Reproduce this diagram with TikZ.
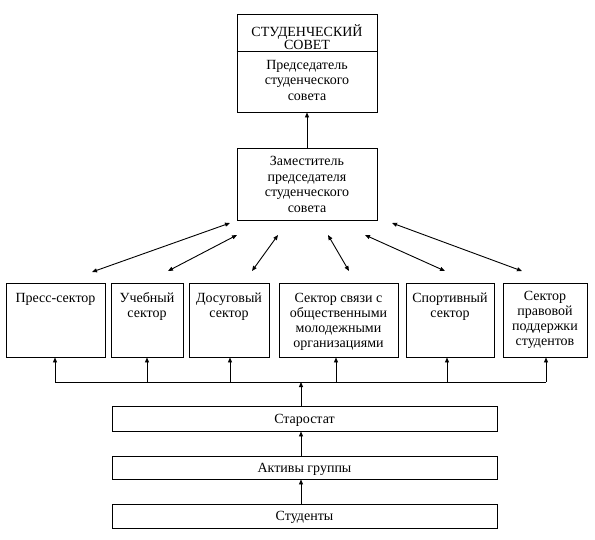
\documentclass[tikz,border=0pt]{standalone}
\usepackage{fontspec}
\setmainfont{Liberation Serif}
\usetikzlibrary{arrows.meta}
\newcommand{\hdrfont}{\fontsize{14}{13}\selectfont\lineskiplimit=-20pt\relax\lineskip=0pt\relax}
\tikzset{
  box/.style={draw, line width=0.9pt, inner sep=0pt},
  txt/.style={align=center, inner sep=0pt, anchor=north, font=\fontsize{14}{15.5}\selectfont},
  arr/.style={line width=0.9pt, -{Triangle[length=5pt,width=4pt]}},
  darr/.style={line width=0.9pt, {Triangle[length=5pt,width=4pt]}-{Triangle[length=5pt,width=4pt]}},
  wide/.style={box, minimum width=385pt, text height=9.3pt, text depth=0pt, font=\fontsize{14}{15.5}\selectfont},
}
\begin{document}
\begin{tikzpicture}[x=1pt,y=-1pt]
\useasboundingbox (0,0) rectangle (595,539);
% top boxes
\node[box, minimum width=140pt, minimum height=98pt] (chair) at (307,63) {};
\draw[line width=0.9pt] (chair.west |- 0,51) -- (chair.east |- 0,51);
\node[txt, font=\hdrfont] (hdr) at (307,24.9) {\strut СТУДЕНЧЕСКИЙ\\СОВЕТ};
\node[txt] (chairt) at (307,58.2) {\strut Председатель\\студенческого\\совета};
\node[box, minimum width=140pt, minimum height=72pt] (dep) at (307,184) {};
\node[txt] (dept) at (307,154.9) {\strut Заместитель\\председателя\\студенческого\\совета};
% sectors
\node[box, minimum width=99pt, minimum height=74pt] (s1) at (55.5,320) {};
\node[box, minimum width=72pt, minimum height=74pt] (s2) at (147,320) {};
\node[box, minimum width=80pt, minimum height=74pt] (s3) at (229,320) {};
\node[box, minimum width=119pt, minimum height=74pt] (s4) at (338.5,320) {};
\node[box, minimum width=88pt, minimum height=74pt] (s5) at (450,320) {};
\node[box, minimum width=84pt, minimum height=74pt] (s6) at (545,320) {};
\node[txt] (t1) at (55.5,291.2) {\strut Пресс-сектор};
\node[txt] (t2) at (147,291.2) {\strut Учебный\\сектор};
\node[txt] (t3) at (229,291.2) {\strut Досуговый\\сектор};
\node[txt, font=\fontsize{14}{15}\selectfont] (t4) at (338.5,291.7) {\strut Сектор связи с\\общественными\\молодежными\\организациями};
\node[txt] (t5) at (450,291.2) {\strut Спортивный\\сектор};
\node[txt, font=\fontsize{14}{15}\selectfont] (t6) at (545,290.2) {\strut Сектор\\правовой\\поддержки\\студентов};
% bottom boxes
\node[wide, minimum height=25pt] (star) at (304.5,418.5) {Старостат};
\node[wide, minimum height=23pt] (akt) at (304.5,467.5) {Активы группы};
\node[wide, minimum height=24pt] (stud) at (304.5,516) {Студенты};
% vertical arrows
\coordinate (v) at (301,0);
\draw[arr] (stud.north -| v) -- (akt.south -| v);
\draw[arr] (akt.north -| v) -- (star.south -| v);
\coordinate (busL) at (55,382);
\coordinate (busR) at (546,382);
\draw[arr] (star.north -| v) -- (busL -| v);
\draw[line width=0.9pt] (busL) -- (busR);
\coordinate (b1) at (55,382);
\coordinate (b2) at (147,382);
\coordinate (b3) at (230,382);
\coordinate (b4) at (336,382);
\coordinate (b5) at (447,382);
\coordinate (b6) at (546,382);
\draw[arr] (b1) -- (b1 |- s1.south);
\draw[arr] (b2) -- (b2 |- s2.south);
\draw[arr] (b3) -- (b3 |- s3.south);
\draw[arr] (b4) -- (b4 |- s4.south);
\draw[arr] (b5) -- (b5 |- s5.south);
\draw[arr] (b6) -- (b6 |- s6.south);
\draw[arr] (dep.north) -- (chair.south);
% bidirectional
\coordinate (a1) at (230,223); \coordinate (e1) at (92,272);
\coordinate (a2) at (237,235); \coordinate (e2) at (168,271);
\coordinate (a3) at (278,235); \coordinate (e3) at (252,271);
\coordinate (a4) at (328,235); \coordinate (e4) at (349,271);
\coordinate (a5) at (365,235); \coordinate (e5) at (445,271);
\coordinate (a6) at (392,223); \coordinate (e6) at (522,271);
\draw[darr] (a1) -- (e1);
\draw[darr] (a2) -- (e2);
\draw[darr] (a3) -- (e3);
\draw[darr] (a4) -- (e4);
\draw[darr] (a5) -- (e5);
\draw[darr] (a6) -- (e6);
\end{tikzpicture}
\end{document}
